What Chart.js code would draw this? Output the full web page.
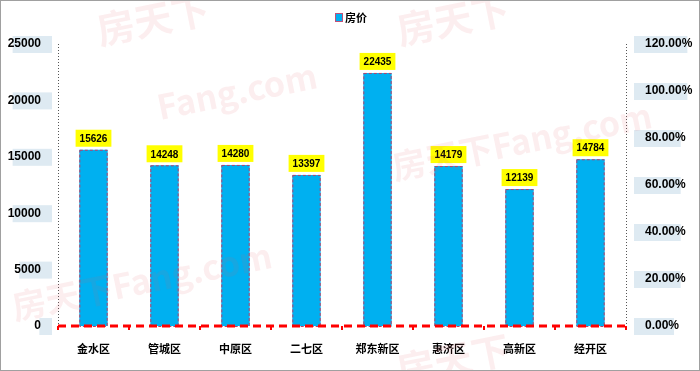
<!DOCTYPE html>
<html>
<head>
<meta charset="utf-8">
<script src="https://cdn.jsdelivr.net/npm/chart.js@4/dist/chart.umd.min.js"></script>
<style>
  body { margin: 0; background: #fff; }
  #wrap { width: 700px; height: 371px; position: relative; }
</style>
</head>
<body>
<div id="wrap"><canvas id="barChart"></canvas></div>
<script>
// data
const districts = ["金水区", "管城区", "中原区", "二七区", "郑东新区", "惠济区", "高新区", "经开区"];
const prices = [15626, 14248, 14280, 13397, 22435, 14179, 12139, 14784];
const seriesName = "房价";

const tickFont = { family: "'Liberation Sans', Arial, sans-serif", size: 12, weight: "bold" };

// light blue boxes behind the axis labels, axis lines, frame and legend
const decor = {
  id: "decor",
  beforeDraw(chart) {
    const ctx = chart.ctx;
    ctx.save();
    ctx.fillStyle = "#fff";
    ctx.fillRect(0, 0, chart.width, chart.height);
    ctx.fillStyle = "#deeaf2";
    ctx.font = "bold 12px 'Liberation Sans'";
    const y = chart.scales.y, y1 = chart.scales.y1;
    y.ticks.forEach((t, i) => {
      const py = y.getPixelForTick(i);
      const tw = ctx.measureText(t.label).width;
      ctx.fillRect(49 - tw - 3, py - 8, tw + 6, 17);
    });
    y1.ticks.forEach((t, i) => {
      const py = y1.getPixelForTick(i);
      const tw = ctx.measureText(t.label).width;
      ctx.fillRect(634, py - 8, tw + 6, 17);
    });
    ctx.restore();
  },
  afterDatasetsDraw(chart) {
    const ctx = chart.ctx;
    const area = chart.chartArea;
    const meta = chart.getDatasetMeta(0);
    ctx.save();
    meta.data.forEach((bar, i) => {
      // dashed outline of each bar
      const left = bar.x - bar.width / 2;
      ctx.setLineDash([3, 2]);
      ctx.strokeStyle = "#b8406a";
      ctx.lineWidth = 1;
      ctx.strokeRect(left + 0.5, bar.y + 0.5, bar.width - 1, bar.base - bar.y);
      ctx.setLineDash([]);
      // value label on yellow box
      ctx.font = "bold 10px 'Liberation Sans'";
      const txt = String(prices[i]);
      const tw = ctx.measureText(txt).width;
      const bw = tw + 8, bh = 17;
      ctx.fillStyle = "#ffff00";
      ctx.fillRect(bar.x - bw / 2, bar.y - 3 - bh, bw, bh);
      ctx.fillStyle = "#000";
      ctx.textAlign = "center";
      ctx.textBaseline = "middle";
      ctx.fillText(txt, bar.x, bar.y - 3 - bh / 2 + 1);
    });
    // dotted value axes
    ctx.strokeStyle = "#555";
    ctx.lineWidth = 1;
    ctx.setLineDash([1, 2]);
    ctx.beginPath();
    ctx.moveTo(area.left + 0.5, area.top);
    ctx.lineTo(area.left + 0.5, area.bottom);
    ctx.moveTo(area.right + 0.5, area.top);
    ctx.lineTo(area.right + 0.5, area.bottom);
    ctx.stroke();
    // red dashed category axis
    ctx.strokeStyle = "#ff0000";
    ctx.lineWidth = 3;
    ctx.setLineDash([8, 5]);
    ctx.beginPath();
    ctx.moveTo(area.left, area.bottom);
    ctx.lineTo(area.right, area.bottom);
    ctx.stroke();
    ctx.restore();
  },
  afterDraw(chart) {
    const ctx = chart.ctx;
    ctx.save();
    // legend
    ctx.fillStyle = "#00b0f0";
    ctx.fillRect(336, 14, 6, 7);
    ctx.strokeStyle = "#c0507a";
    ctx.lineWidth = 1;
    ctx.strokeRect(335.5, 13.5, 7, 8);
    ctx.fillStyle = "#000";
    ctx.font = "bold 11px 'Noto Sans CJK SC'";
    ctx.textBaseline = "middle";
    ctx.fillText(seriesName, 345, 18);
    // faint watermark
    ctx.fillStyle = "rgba(225,90,100,0.1)";
    const marks = [
      ["房天下", 100, 45, 38], ["房天下", 400, 45, 38],
      ["Fang.com", 160, 120, 34], ["房天下Fang.com", 395, 180, 34],
      ["房天下Fang.com", 15, 320, 34], ["房天下", 400, 385, 38]
    ];
    marks.forEach(m => {
      ctx.save();
      ctx.translate(m[1], m[2]);
      ctx.rotate(-0.2);
      ctx.font = "bold " + m[3] + "px 'Noto Sans CJK SC'";
      ctx.textBaseline = "alphabetic";
      ctx.fillText(m[0], 0, 0);
      ctx.restore();
    });
    // frame
    ctx.strokeStyle = "#a0a0a0";
    ctx.lineWidth = 1;
    ctx.strokeRect(0.5, 0.5, chart.width - 1, chart.height - 1);
    ctx.restore();
  }
};

new Chart(document.getElementById("barChart"), {
  type: "bar",
  data: {
    labels: districts,
    datasets: [{
      label: seriesName,
      data: prices,
      backgroundColor: "#00b0f0",
      borderWidth: 0,
      categoryPercentage: 1,
      barPercentage: 0.4,
      yAxisID: "y"
    }]
  },
  options: {
    responsive: true,
    maintainAspectRatio: false,
    animation: false,
    layout: { padding: { top: 44, left: 0, right: 0, bottom: 0 } },
    plugins: { legend: { display: false }, tooltip: { enabled: false } },
    scales: {
      x: {
        offset: true,
        grid: { offset: true, drawOnChartArea: false, color: "#ff0000", tickLength: 4, lineWidth: 2 },
        border: { display: false },
        ticks: { color: "#000", padding: 12, font: { family: "'Noto Sans CJK SC'", size: 11, weight: "bold" } },
        afterFit(s) { s.height = 45; }
      },
      y: {
        min: 0, max: 25000,
        grid: { display: false },
        border: { display: false },
        ticks: { stepSize: 5000, color: "#000", padding: 9, font: tickFont, callback: v => String(v) },
        afterFit(s) { s.width = 58; }
      },
      y1: {
        display: true,
        position: "right",
        min: 0, max: 1.2,
        grid: { display: false },
        border: { display: false },
        ticks: {
          stepSize: 0.2, color: "#000", padding: 11, font: tickFont,
          callback: v => (v * 100).toFixed(2) + "%"
        },
        afterFit(s) { s.width = 74; }
      }
    }
  },
  plugins: [decor]
});
</script>
</body>
</html>
